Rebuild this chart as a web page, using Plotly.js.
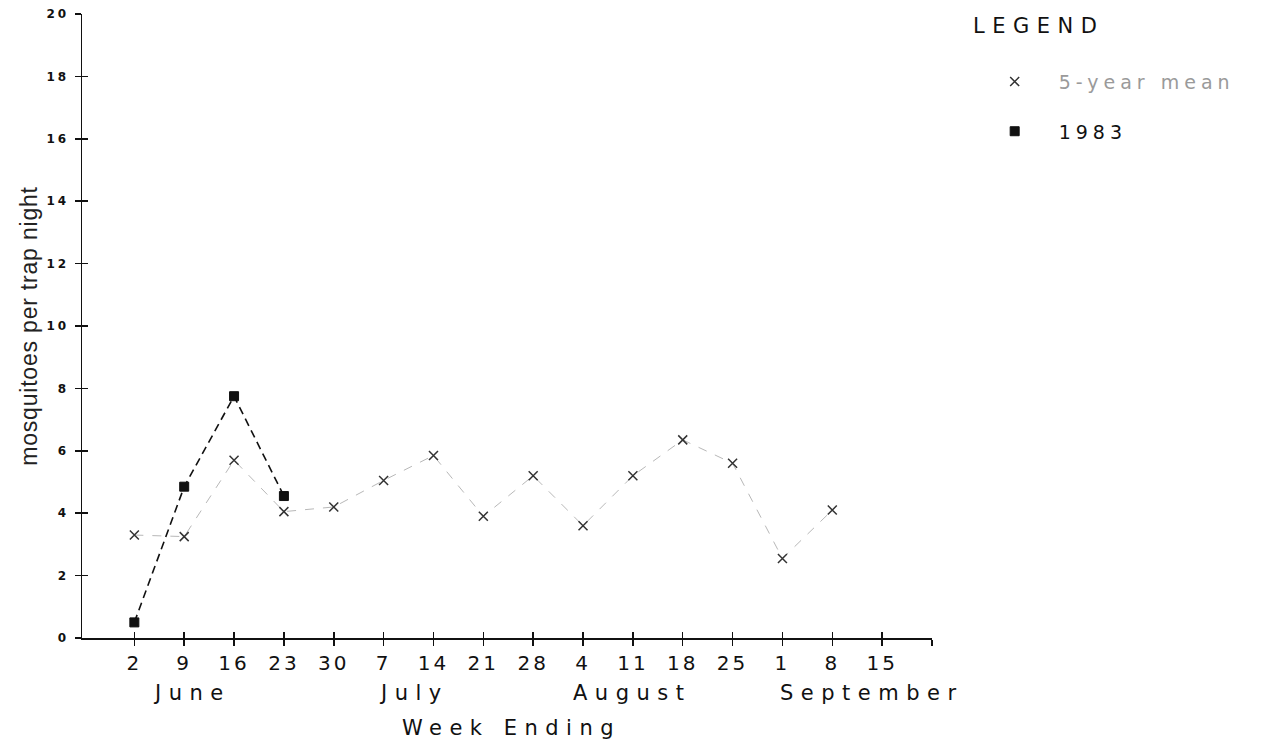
<!DOCTYPE html>
<html>
<head>
<meta charset="utf-8">
<script src="https://cdn.plot.ly/plotly-3.0.1.min.js"></script>
<style>
  html, body { margin: 0; padding: 0; background: #fff; }
  #chart { width: 1265px; height: 749px; }
  .xtick text { letter-spacing: 3px; }
  .ytick text { letter-spacing: 3px; }
  .annotation-text { letter-spacing: 7.5px; }
  .legendtext { letter-spacing: 5px; }
  .ytitle { letter-spacing: 0.8px; }
</style>
</head>
<body>
<div id="chart"></div>
<script>
// Week-ending dates (June 2 ... September 15)
const weeks = ['2','9','16','23','30','7','14','21','28','4','11','18','25','1','8','15'];
const months = ['June','July','August','September'];
// mosquitoes per trap night
const meanFiveYear = [3.3, 3.25, 5.7, 4.05, 4.2, 5.05, 5.85, 3.9, 5.2, 3.6, 5.2, 6.35, 5.6, 2.55, 4.1, null];
const y1983 = [0.5, 4.85, 7.75, 4.55];
const yTicks = [0, 2, 4, 6, 8, 10, 12, 14, 16, 18, 20];

const xIdx = weeks.map((_, i) => i);
const tickIdx = weeks.map((_, i) => i).concat([weeks.length]);
const tickTxt = weeks.concat(['']);

const FONT = 'DejaVu Sans, Verdana, sans-serif';

const traces = [
  { x: xIdx, y: meanFiveYear, mode: 'lines', line: { color: '#b8b8b8', width: 1, dash: 'dash' },
    showlegend: false, hoverinfo: 'skip', connectgaps: false },
  { x: xIdx.slice(0, y1983.length), y: y1983, mode: 'lines', line: { color: '#111', width: 1.6, dash: '8px,5px' },
    showlegend: false, hoverinfo: 'skip' },
  { x: xIdx, y: meanFiveYear, mode: 'markers', name: '<span style="color:#9a9a9a">5-year mean</span>',
    marker: { symbol: 'x-thin', size: 9, line: { color: '#333', width: 1.5 } }, legendgroup: 'a' },
  { x: xIdx.slice(0, y1983.length), y: y1983, mode: 'markers', name: '1983',
    marker: { symbol: 'square', size: 9, color: '#111', line: { color: '#111', width: 1 } }, legendgroup: 'b' },
  // carrier for the overlay axes that draw the inner half of each tick
  { x: xIdx, y: meanFiveYear, xaxis: 'x2', yaxis: 'y2', mode: 'markers', marker: { opacity: 0 },
    showlegend: false, hoverinfo: 'skip' }
];

const monthPos = [1.15, 5.6, 10.0, 14.8];
const annotations = months.map((m, i) => ({
  text: m, x: monthPos[i], xref: 'x', y: -0.088, yref: 'paper', yanchor: 'middle', xanchor: 'center',
  showarrow: false, font: { family: FONT, size: 21, color: '#111' }
}));
annotations.push({
  text: 'Week Ending', x: 0.505, xref: 'paper', y: -0.144, yref: 'paper', yanchor: 'middle', xanchor: 'center',
  showarrow: false, font: { family: FONT, size: 21, color: '#111' }
});
annotations.push({
  text: 'LEGEND', x: 1.046, xref: 'paper', y: 0.981, yref: 'paper', yanchor: 'middle', xanchor: 'left',
  showarrow: false, font: { family: FONT, size: 21, color: '#111' }
});

const layout = {
  width: 1265, height: 749,
  margin: { l: 82, r: 333, t: 14, b: 111 },
  paper_bgcolor: '#fff', plot_bgcolor: '#fff',
  showlegend: true,
  legend: { x: 1.0455, y: 0.922, xanchor: 'left', yanchor: 'top', traceorder: 'grouped', tracegroupgap: 22,
    itemwidth: 78,
    font: { family: FONT, size: 19, color: '#111' }, bgcolor: 'rgba(0,0,0,0)' },
  xaxis: {
    range: [-1.05, 16], tickmode: 'array', tickvals: tickIdx, ticktext: tickTxt,
    showgrid: false, zeroline: false, showline: true, linecolor: '#111', linewidth: 1.5,
    ticks: 'outside', ticklen: 6, tickwidth: 1.5, tickcolor: '#111', ticklabelstandoff: 0,
    tickfont: { family: FONT, size: 20, color: '#111' }, fixedrange: true
  },
  xaxis2: {
    range: [-1.05, 16], overlaying: 'x', anchor: 'y2', side: 'bottom', tickmode: 'array', tickvals: tickIdx,
    showticklabels: false, showgrid: false, zeroline: false, showline: false,
    ticks: 'inside', ticklen: 6, tickwidth: 1.5, tickcolor: '#111', fixedrange: true
  },
  yaxis: {
    range: [0, 20], tickmode: 'array', tickvals: yTicks,
    showgrid: false, zeroline: false, showline: true, linecolor: '#111', linewidth: 1.5,
    ticks: 'outside', ticklen: 6, tickwidth: 1.5, tickcolor: '#111', ticklabelstandoff: 3,
    tickfont: { family: 'DejaVu Sans, sans-serif', size: 12, color: '#111', weight: 'bold' },
    title: { text: 'mosquitoes per trap night', font: { family: 'Liberation Sans, Arial, sans-serif', size: 23, color: '#222' }, standoff: 2 },
    fixedrange: true
  },
  yaxis2: {
    range: [0, 20], overlaying: 'y', anchor: 'x2', side: 'left', tickmode: 'array', tickvals: yTicks,
    showticklabels: false, showgrid: false, zeroline: false, showline: false,
    ticks: 'inside', ticklen: 6, tickwidth: 1.5, tickcolor: '#111', fixedrange: true
  },
  annotations: annotations
};

Plotly.newPlot('chart', traces, layout, { displayModeBar: false, staticPlot: true });
</script>
</body>
</html>
